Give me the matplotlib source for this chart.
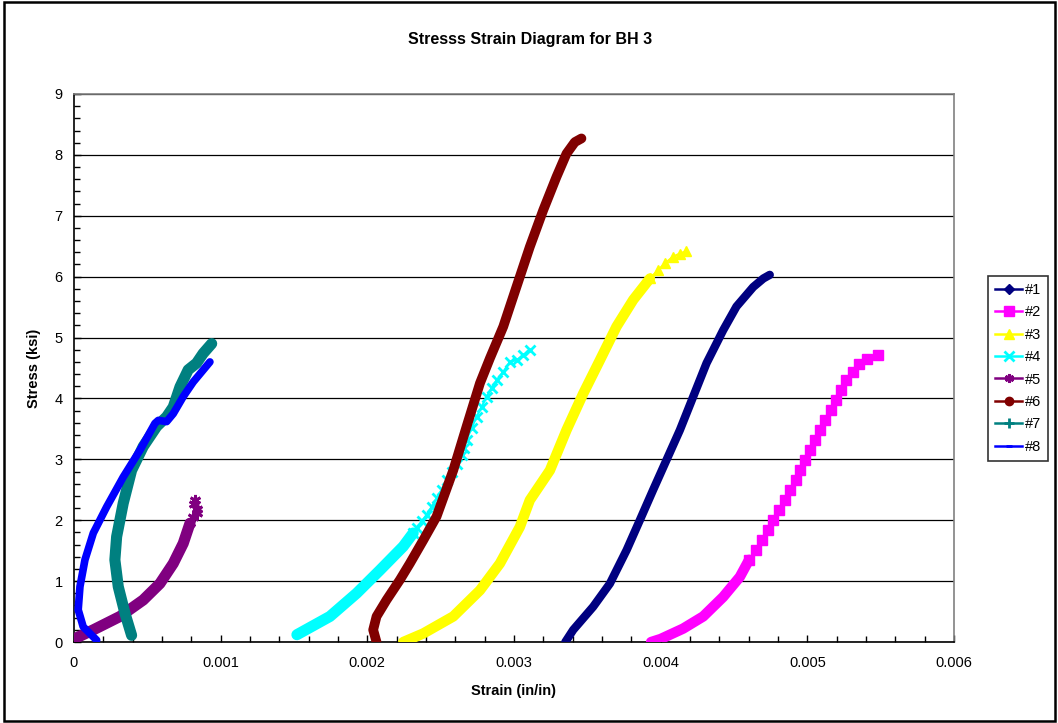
import matplotlib
matplotlib.use('Agg')
import matplotlib.pyplot as plt
from matplotlib.lines import Line2D
from matplotlib.patches import Rectangle
from matplotlib.ticker import MultipleLocator, FuncFormatter

plt.rcParams['font.family'] = ['Liberation Sans', 'DejaVu Sans']

# --- data (strain in in/in, stress in ksi) ---
s1_strain = [0.003350, 0.003404, 0.003540, 0.003654, 0.003768, 0.003858, 0.003949, 0.004040,
             0.004131, 0.004222, 0.004313, 0.004426, 0.004517, 0.004631, 0.004700, 0.004744]
s1_stress = [0.00, 0.20, 0.58, 0.96, 1.51, 2.00, 2.50, 2.99, 3.48, 4.03, 4.58, 5.12, 5.51, 5.83, 5.97, 6.03]

s2_strain = [0.003935, 0.004000, 0.004153, 0.004290, 0.004426, 0.004540, 0.004603,
             0.004649, 0.004690, 0.004733, 0.004767, 0.004808, 0.004847, 0.004885, 0.004922,
             0.004953, 0.004985, 0.005019, 0.005051, 0.005085, 0.005121, 0.005160, 0.005194,
             0.005228, 0.005267, 0.005308, 0.005353, 0.005408, 0.005483]
s2_stress = [0.00, 0.05, 0.22, 0.42, 0.74, 1.07, 1.35,
             1.51, 1.68, 1.84, 2.00, 2.17, 2.33, 2.50, 2.66,
             2.82, 2.99, 3.15, 3.32, 3.48, 3.65, 3.81, 3.97,
             4.14, 4.30, 4.44, 4.56, 4.65, 4.71]

s3_strain = [0.002245, 0.002381, 0.002586, 0.002768, 0.002904, 0.003040, 0.003108, 0.003245,
             0.003358, 0.003472, 0.003586, 0.003699, 0.003813, 0.003927,
             0.003983, 0.004029, 0.004085, 0.004131, 0.004176]
s3_stress = [0.00, 0.14, 0.42, 0.85, 1.29, 1.89, 2.33, 2.82,
             3.48, 4.08, 4.63, 5.18, 5.62, 5.97,
             6.11, 6.22, 6.33, 6.38, 6.42]

s4_strain = [0.001520, 0.001745, 0.001927, 0.002086, 0.002245, 0.002313,
             0.002336, 0.002370, 0.002404, 0.002438, 0.002472, 0.002506, 0.002541, 0.002575,
             0.002609, 0.002643, 0.002660, 0.002677, 0.002711, 0.002745, 0.002779, 0.002813,
             0.002847, 0.002881, 0.002927, 0.002972, 0.003018, 0.003063, 0.003108]
s4_stress = [0.12, 0.42, 0.80, 1.18, 1.57, 1.79,
             1.87, 1.98, 2.09, 2.22, 2.36, 2.50, 2.66, 2.80,
             2.93, 3.07, 3.19, 3.32, 3.51, 3.70, 3.86, 4.03,
             4.17, 4.30, 4.44, 4.60, 4.63, 4.71, 4.79]

s5_strain = [0.000000, 0.000132, 0.000314, 0.000472, 0.000586, 0.000677, 0.000745, 0.000791,
             0.000813, 0.000836, 0.000820, 0.000842, 0.000825]
s5_stress = [0.05, 0.20, 0.42, 0.69, 0.96, 1.29, 1.62, 1.95,
             2.06, 2.18, 2.26, 2.12, 2.33]

s6_strain = [0.002063, 0.002040, 0.002063, 0.002131, 0.002222, 0.002290, 0.002381, 0.002472,
             0.002586, 0.002677, 0.002768, 0.002836, 0.002927, 0.003018, 0.003108, 0.003199,
             0.003290, 0.003358, 0.003415, 0.003460]
s6_stress = [0.00, 0.20, 0.42, 0.69, 1.02, 1.29, 1.67, 2.06,
             2.82, 3.54, 4.25, 4.66, 5.18, 5.84, 6.49, 7.09,
             7.64, 8.02, 8.21, 8.27]

s7_strain = [0.000393, 0.000348, 0.000302, 0.000279, 0.000291, 0.000336, 0.000393, 0.000472,
             0.000564, 0.000632, 0.000677, 0.000723, 0.000779, 0.000836, 0.000881, 0.000939]
s7_stress = [0.11, 0.47, 0.91, 1.35, 1.73, 2.28, 2.82, 3.21,
             3.54, 3.70, 3.86, 4.19, 4.47, 4.58, 4.74, 4.90]

s8_strain = [0.000155, 0.000063, 0.000029, 0.000041, 0.000075, 0.000132, 0.000223, 0.000336,
             0.000450, 0.000552, 0.000575, 0.000632, 0.000677, 0.000745, 0.000813, 0.000927]
s8_stress = [0.03, 0.25, 0.53, 0.91, 1.35, 1.79, 2.22, 2.71,
             3.15, 3.59, 3.64, 3.62, 3.75, 4.03, 4.27, 4.60]

labels = ['#1', '#2', '#3', '#4', '#5', '#6', '#7', '#8']
strains = [s1_strain, s2_strain, s3_strain, s4_strain, s5_strain, s6_strain, s7_strain, s8_strain]
stresses = [s1_stress, s2_stress, s3_stress, s4_stress, s5_stress, s6_stress, s7_stress, s8_stress]

# style: colour, marker, marker size, band width, number of points drawn as dense band
styles = {
    '#1': ('#000080', 'D', 5, 6.0, 16),
    '#2': ('#FF00FF', 's', 6.5, 7.5, 7),
    '#3': ('#FFFF00', '^', 7, 7.5, 14),
    '#4': ('#00FFFF', 'x', 7, 8.0, 6),
    '#5': ('#800080', (6, 2, 0), 8, 8.0, 8),
    '#6': ('#800000', 'o', 6, 7.0, 20),
    '#7': ('#008080', '+', 7, 8.0, 16),
    '#8': ('#0000FF', '_', 5, 5.5, 16),
}

fig = plt.figure(figsize=(10.58, 7.23), dpi=100)
ax = fig.add_axes([0.0699, 0.112, 0.8318, 0.758])

handles = []
for lab, xs, ys in zip(labels, strains, stresses):
    color, mk, ms, band, n = styles[lab]
    ax.plot(xs[:n], ys[:n], color=color, lw=band, solid_capstyle='round',
            solid_joinstyle='round', zorder=3)
    if n < len(xs):
        ax.plot(xs[n - 1:], ys[n - 1:], color=color, lw=1.5, marker=mk, ms=ms,
                mew=2 if mk in ('x', '+') or isinstance(mk, tuple) else 1,
                mec=color, mfc=color, zorder=3)
    handles.append(Line2D([], [], color=color, lw=1.8, marker=mk, ms=ms if ms < 7 else 6.5,
                          mew=2 if mk in ('x', '+', '_') or isinstance(mk, tuple) else 1,
                          mec=color, mfc=color, label=lab))

ax.set_xlim(0, 0.006)
ax.set_ylim(0, 9)
ax.xaxis.set_major_locator(MultipleLocator(0.001))
ax.xaxis.set_minor_locator(MultipleLocator(0.0002))
ax.yaxis.set_major_locator(MultipleLocator(1))
ax.yaxis.set_minor_locator(MultipleLocator(0.2))
ax.xaxis.set_major_formatter(FuncFormatter(lambda v, p: '0' if abs(v) < 1e-12 else f'{v:g}'))
ax.yaxis.set_major_formatter(FuncFormatter(lambda v, p: f'{v:g}'))
ax.tick_params(which='both', direction='in', colors='black', labelsize=10.5)
ax.tick_params(which='major', length=5, width=1)
ax.tick_params(which='minor', length=4, width=1)
ax.tick_params(axis='x', which='major', pad=10)
ax.tick_params(axis='y', which='major', pad=8)

ax.grid(True, axis='y', which='major', color='black', lw=0.9, zorder=1)
ax.set_axisbelow(True)
for side in ('top', 'right'):
    ax.spines[side].set_color('#808080')
    ax.spines[side].set_linewidth(1.2)
for side in ('left', 'bottom'):
    ax.spines[side].set_color('black')
    ax.spines[side].set_linewidth(1.2)

ax.set_xlabel('Strain (in/in)', fontsize=10.5, fontweight='bold', labelpad=10)
ax.set_ylabel('Stress (ksi)', fontsize=10.5, fontweight='bold', labelpad=10)
fig.text(0.501, 0.945, 'Stresss Strain Diagram for BH 3', ha='center', va='center',
         fontsize=11.5, fontweight='bold')

leg = fig.legend(handles=handles, loc='upper left', bbox_to_anchor=(0.934, 0.618),
                 fontsize=10.5, frameon=True, fancybox=False, edgecolor='black',
                 handlelength=1.9, handletextpad=0.2, labelspacing=0.58, borderpad=0.45,
                 borderaxespad=0)
leg.get_frame().set_linewidth(1.2)

fig.patches.append(Rectangle((0.004, 0.003), 0.993, 0.994, transform=fig.transFigure,
                             fill=False, ec='black', lw=1.8))

fig.savefig('out.png', dpi=100, facecolor='white')
